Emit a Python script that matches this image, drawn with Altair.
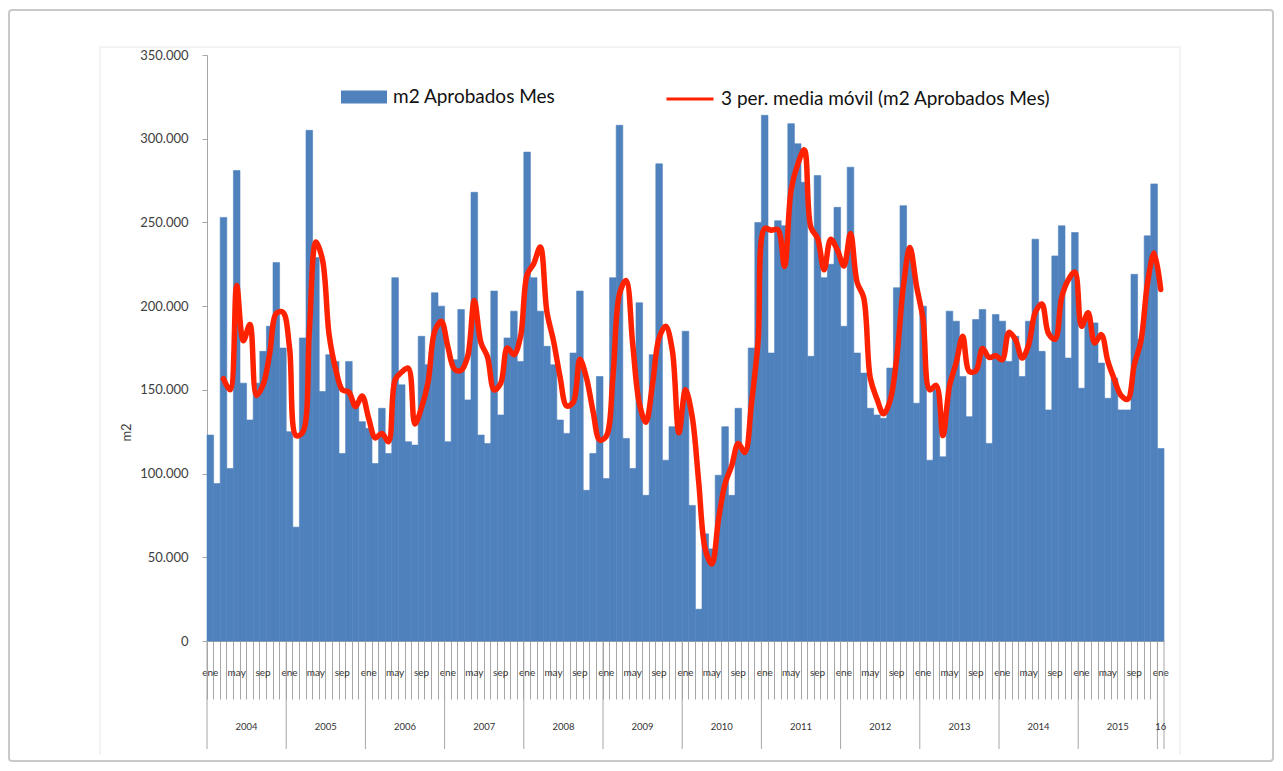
import altair as alt
import pandas as pd

# ---------------- datos (m2 aprobados por mes, en miles) ----------------
meses = ["ene", "feb", "mar", "abr", "may", "jun", "jul", "ago", "sep", "oct", "nov", "dic"]
etiquetas_anio = ["2004", "2005", "2006", "2007", "2008", "2009", "2010",
                  "2011", "2012", "2013", "2014", "2015", "16"]

m2_2004 = [123, 94, 253, 103, 281, 154, 132, 154, 173, 188, 226, 175]
m2_2005 = [125, 68, 181, 305, 229, 149, 171, 167, 112, 167, 141, 131]
m2_2006 = [127, 106, 139, 112, 217, 153, 119, 117, 182, 165, 208, 200]
m2_2007 = [119, 168, 198, 144, 268, 123, 118, 209, 135, 181, 197, 167]
m2_2008 = [292, 217, 197, 176, 165, 132, 124, 172, 209, 90, 112, 158]
m2_2009 = [97, 217, 308, 121, 103, 202, 87, 171, 285, 108, 128, 137]
m2_2010 = [185, 81, 19, 64, 55, 99, 128, 87, 139, 112, 175, 250]
m2_2011 = [314, 172, 251, 248, 309, 297, 274, 170, 278, 217, 225, 259]
m2_2012 = [188, 283, 172, 160, 139, 135, 133, 163, 211, 260, 234, 142]
m2_2013 = [200, 108, 150, 110, 197, 191, 158, 134, 192, 198, 118, 195]
m2_2014 = [191, 167, 182, 158, 191, 240, 173, 138, 230, 248, 169, 244]
m2_2015 = [151, 193, 190, 166, 145, 157, 138, 138, 219, 180, 242, 273]
m2_2016 = [115]

LEG_BAR = "m2 Aprobados Mes"
LEG_LINE = "3 per. media móvil (m2 Aprobados Mes)"
AZUL = "#4F81BD"
ROJO = "#FF2200"
GRIS = "#a6a6a6"

serie = (m2_2004 + m2_2005 + m2_2006 + m2_2007 + m2_2008 + m2_2009 + m2_2010 +
         m2_2011 + m2_2012 + m2_2013 + m2_2014 + m2_2015 + m2_2016)
n = len(serie)
df = pd.DataFrame({
    "idx": list(range(n)),
    "mes": [meses[i % 12] for i in range(n)],
    "anio": [etiquetas_anio[i // 12] for i in range(n)],
    "m2": [v * 1000 for v in serie],
    "serie_b": LEG_BAR,
    "serie_l": LEG_LINE,
})

W, H = 957, 586
FONT = "Lato"

arr_meses = "[" + ",".join("'" + m + "'" for m in meses) + "]"

x_axis = alt.Axis(
    title=None, bandPosition=0, tickSize=58, tickColor=GRIS, tickWidth=1,
    domainColor=GRIS, labelAngle=0, labelBaseline="middle", labelPadding=-27,
    labelExpr=f"datum.value % 4 == 0 ? {arr_meses}[datum.value % 12] : ''",
    labelOverlap=False, labelBound=False, labelFlush=False,
    labelFont=FONT, labelFontSize=10, labelColor="#333333",
)
y_axis = alt.Axis(
    title="m2", values=list(range(0, 350001, 50000)), grid=False,
    labelExpr="replace(format(datum.value, ','), ',', '.')",
    tickSize=5, tickColor=GRIS, domainColor=GRIS, labelPadding=14,
    labelFont=FONT, labelFontSize=13, labelColor="#404040",
    titleFont=FONT, titleFontSize=13, titleFontWeight="normal", titleColor="#404040",
    titleX=-81, titleY=377, titleAngle=-90, titleBaseline="middle", titleAlign="center",
)

x_enc = alt.X("idx:O", scale=alt.Scale(paddingInner=0, paddingOuter=0), axis=x_axis)

base = alt.Chart(df)

barras = base.mark_bar(stroke=AZUL, strokeWidth=0.6).encode(
    x=x_enc,
    y=alt.Y("m2:Q", scale=alt.Scale(domain=[0, 350000], nice=False), axis=y_axis),
    color=alt.Color("serie_b:N", scale=alt.Scale(domain=[LEG_BAR], range=[AZUL]),
                    legend=alt.Legend(orient="none", legendX=134, legendY=19, title=None,
                                      direction="horizontal", padding=0,
                                      symbolType="M-1,-0.283H1V0.283H-1Z", symbolSize=2116,
                                      symbolStrokeWidth=0, symbolOpacity=1, labelOffset=6,
                                      labelLimit=0,
                                      labelFont=FONT, labelFontSize=19, labelColor="#111111")),
)

linea = base.transform_window(
    ma="mean(m2)", frame=[-2, 0], sort=[alt.SortField("idx")]
).transform_filter("datum.idx >= 2").mark_line(
    strokeWidth=5.5, interpolate="catmull-rom", strokeCap="round", strokeJoin="round"
).encode(
    x=alt.X("idx:O"),
    y=alt.Y("ma:Q", title="m2"),
    stroke=alt.Stroke("serie_l:N", scale=alt.Scale(domain=[LEG_LINE], range=[ROJO]),
                      legend=alt.Legend(orient="none", legendX=458, legendY=19, title=None,
                                        direction="horizontal", padding=0,
                                        symbolType="stroke", symbolSize=2209,
                                        symbolStrokeWidth=3, labelOffset=6,
                                        labelLimit=0,
                                        labelFont=FONT, labelFontSize=19, labelColor="#111111")),
)

separadores = base.transform_filter("datum.idx % 12 == 0").mark_rule(
    color=GRIS, strokeWidth=1
).encode(
    x=alt.X("idx:O", bandPosition=0), y=alt.value(H), y2=alt.value(H + 108)
)
separador_fin = base.transform_filter("datum.idx == 144").mark_rule(
    color=GRIS, strokeWidth=1
).encode(
    x=alt.X("idx:O", bandPosition=1), y=alt.value(H), y2=alt.value(H + 108)
)

anios_txt = base.transform_filter("datum.idx % 12 == 6").mark_text(
    font=FONT, fontSize=9.5, color="#333333", baseline="middle", align="center"
).encode(x=alt.X("idx:O", bandPosition=0), y=alt.value(672), text="anio:N")
anio_fin = base.transform_filter("datum.idx == 144").mark_text(
    font=FONT, fontSize=9.5, color="#333333", baseline="middle", align="center"
).encode(x=alt.X("idx:O", bandPosition=0.5), y=alt.value(672), text="anio:N")

# marcos decorativos
uno = alt.Chart(pd.DataFrame({"k": [0]}))
marco_ext = uno.mark_rect(fill="transparent", stroke="#c9c9c9", strokeWidth=2, cornerRadius=3).encode(
    x=alt.value(-198), x2=alt.value(1066), y=alt.value(-45), y2=alt.value(706)
)
marco_int_izq = uno.mark_rule(color="#e8e8e8", strokeWidth=1).encode(
    x=alt.value(-107), y=alt.value(-8), y2=alt.value(700)
)
marco_int_sup = uno.mark_rule(color="#e8e8e8", strokeWidth=1).encode(
    x=alt.value(-107), x2=alt.value(973), y=alt.value(-8)
)
marco_int_der = uno.mark_rule(color="#e8e8e8", strokeWidth=1).encode(
    x=alt.value(973), y=alt.value(-8), y2=alt.value(700)
)

chart = alt.layer(
    marco_ext, marco_int_izq, marco_int_sup, marco_int_der,
    barras, linea, separadores, separador_fin, anios_txt, anio_fin
).properties(
    width=W, height=H,
    autosize=alt.AutoSizeParams(type="none"),
    padding={"left": 199, "top": 47, "right": 111, "bottom": 122},
    background="white",
).configure_view(strokeWidth=0)

chart.save("out.html", embed_options={"renderer": "svg", "actions": False})
